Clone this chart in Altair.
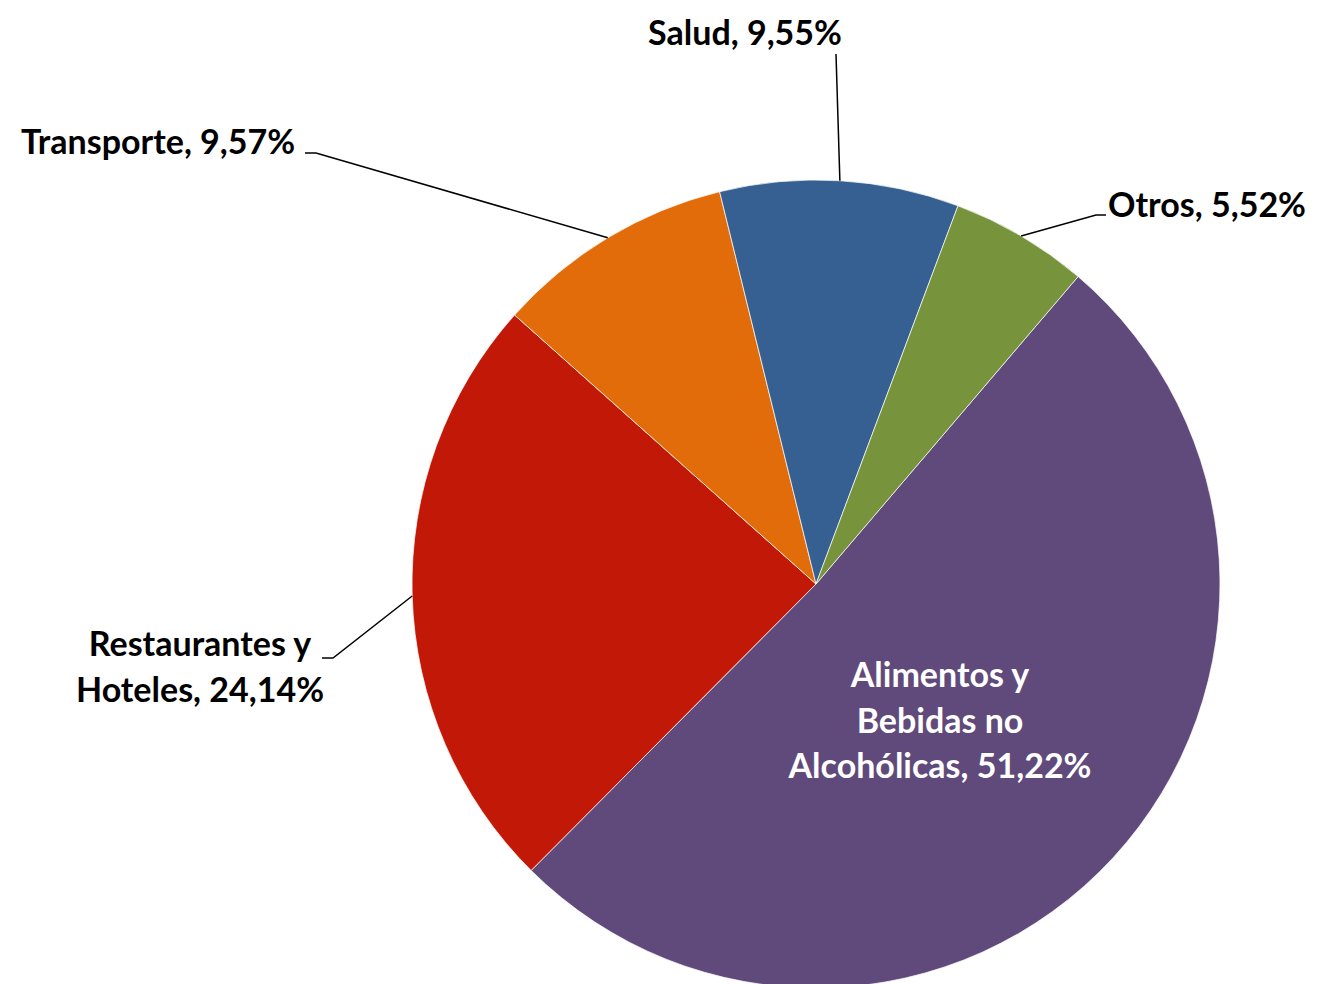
import math
import altair as alt
import pandas as pd

# ---- data ----
categories = ["Alimentos y Bebidas no Alcohólicas", "Restaurantes y Hoteles",
              "Transporte", "Salud", "Otros"]
values = [51.22, 24.14, 9.57, 9.55, 5.52]
label_texts = ["Alimentos y\nBebidas no\nAlcohólicas, 51,22%",
               "Restaurantes y\nHoteles, 24,14%",
               "Transporte, 9,57%",
               "Salud, 9,55%",
               "Otros, 5,52%"]
colors = ["#604A7B", "#C21807", "#E36C0A", "#376092", "#77933C"]

# ---- layout (chart pixel coordinates, origin at top-left of the canvas) ----
W, H = 1302, 976
CX, CY, R = 808, 576, 404
START_DEG = 40.45
label_pos = {  # centre of the first line of each label
    categories[0]: (932, 669),
    categories[1]: (192, 638),
    categories[2]: (150, 136),
    categories[3]: (737, 27),
    categories[4]: (1199, 199),
}
label_color = ["#FFFFFF", "#000000", "#000000", "#000000", "#000000"]
elbows = {  # leader line points after the anchor on the pie edge
    categories[1]: [(325, 650), (314, 650)],
    categories[2]: [(308, 145), (297, 145)],
    categories[3]: [(828, 46)],
    categories[4]: [(1088, 207), (1098, 207)],
}

df = pd.DataFrame({"cat": categories, "value": values, "idx": list(range(len(values))),
                   "color": colors})

# anchors: middle angle of each slice, on the pie edge
total = sum(values)
cum = 0.0
line_rows = []
for i, (c, v) in enumerate(zip(categories, values)):
    mid = START_DEG + (cum + v / 2) / total * 360.0
    cum += v
    if c not in elbows:
        continue
    a = math.radians(mid)
    pts = [(CX + R * math.sin(a), CY - R * math.cos(a))] + elbows[c]
    for k, (px, py) in enumerate(pts):
        line_rows.append({"cat": c, "k": k, "px": px, "py": py})
lines_df = pd.DataFrame(line_rows)

lab_df = pd.DataFrame({
    "text": label_texts,
    "px": [label_pos[c][0] for c in categories],
    "py": [label_pos[c][1] for c in categories],
    "tc": label_color,
})

xs = alt.Scale(domain=[0, W], range=[0, W], nice=False, zero=False)
ys = alt.Scale(domain=[0, H], range=[0, H], nice=False, zero=False)

start = math.radians(START_DEG)
pie = alt.Chart(df).mark_arc(outerRadius=R, stroke="white", strokeWidth=0.7).encode(
    theta=alt.Theta("value:Q", stack=True,
                    scale=alt.Scale(range=[start, start + 2 * math.pi])),
    order=alt.Order("idx:Q"),
    color=alt.Color("color:N", scale=None, legend=None),
    x=alt.value(CX),
    y=alt.value(CY),
)

leaders = alt.Chart(lines_df).mark_line(color="black", strokeWidth=1.5).encode(
    x=alt.X("px:Q", scale=xs, axis=None),
    y=alt.Y("py:Q", scale=ys, axis=None),
    detail="cat:N",
    order="k:Q",
)

labels = alt.Chart(lab_df).mark_text(
    font="Lato", fontWeight="bold", fontSize=34, lineHeight=45.5,
    align="center", baseline="middle", lineBreak="\n",
).encode(
    x=alt.X("px:Q", scale=xs, axis=None),
    y=alt.Y("py:Q", scale=ys, axis=None),
    text="text:N",
    color=alt.Color("tc:N", scale=None, legend=None),
)

chart = alt.layer(pie, leaders, labels).properties(
    width=W, height=H, padding=0,
    autosize=alt.AutoSizeParams(type="none"),
).configure_view(stroke=None)

chart.save("out.html", embed_options={"renderer": "svg", "actions": False})
